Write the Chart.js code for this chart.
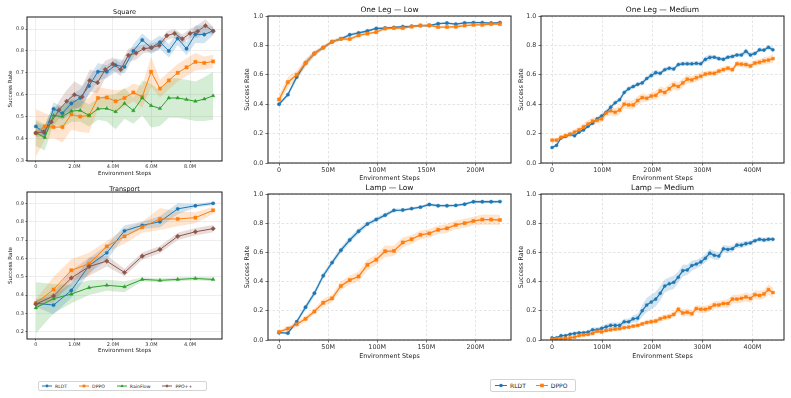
<!DOCTYPE html>
<html>
<head>
<meta charset="utf-8">
<script src="https://cdn.jsdelivr.net/npm/chart.js@4.4.1/dist/chart.umd.min.js"></script>
<style>
  body { margin: 0; width: 791px; height: 398px; position: relative; overflow: hidden; background: #fff; font-family: "DejaVu Sans", sans-serif; }
  canvas { position: absolute; }
  .legend { position: absolute; display: flex; align-items: center; box-sizing: border-box; border: 1px solid #d4d4d4; border-radius: 2px; background: #fff; color: #222; white-space: nowrap; }
  .legend .item { display: inline-flex; align-items: center; }
  .legend svg { display: block; }
</style>
</head>
<body>
<div class="legend" id="legendRobo" style="left:38px;top:381px;width:169px;height:10px;font-size:4.6px;padding-left:3px;gap:12px;"></div>
<div class="legend" id="legendFurn" style="left:490px;top:379px;width:86px;height:13px;font-size:6px;padding-left:4px;gap:10px;"></div>
<script>
// ---- Square (x in millions of env steps) ----
const squareStepsA = [0, 0.46, 0.92, 1.38, 1.84, 2.3, 2.76, 3.22, 3.68, 4.14, 4.6, 5.06, 5.52, 5.98, 6.44, 6.9, 7.36, 7.82, 8.28, 8.74, 9.2];
const squareStepsB = [0, 0.4, 0.8, 1.2, 1.6, 2.0, 2.4, 2.8, 3.2, 3.6, 4.0, 4.4, 4.8, 5.2, 5.6, 6.0, 6.4, 6.8, 7.2, 7.6, 8.0, 8.4, 8.8, 9.2];
const squareRLDT = [0.455, 0.425, 0.535, 0.515, 0.56, 0.585, 0.64, 0.705, 0.705, 0.735, 0.727, 0.80, 0.85, 0.815, 0.84, 0.80, 0.857, 0.81, 0.876, 0.875, 0.892];
const squareRLDTStd = [0.02, 0.03, 0.03, 0.03, 0.04, 0.04, 0.04, 0.04, 0.03, 0.03, 0.03, 0.03, 0.03, 0.03, 0.03, 0.03, 0.03, 0.03, 0.04, 0.04, 0.02];
const squareDPPO = [0.425, 0.455, 0.452, 0.452, 0.51, 0.50, 0.505, 0.585, 0.587, 0.57, 0.585, 0.61, 0.59, 0.705, 0.628, 0.665, 0.70, 0.725, 0.75, 0.745, 0.752];
const squareDPPOStd = [0.11, 0.06, 0.05, 0.07, 0.07, 0.07, 0.08, 0.05, 0.04, 0.05, 0.04, 0.04, 0.05, 0.07, 0.04, 0.04, 0.04, 0.04, 0.04, 0.03, 0.03];
const squareRainFlow = [0.425, 0.405, 0.505, 0.50, 0.525, 0.528, 0.505, 0.535, 0.537, 0.522, 0.56, 0.527, 0.585, 0.55, 0.537, 0.585, 0.585, 0.578, 0.57, 0.58, 0.595];
const squareRainFlowStd = [0.06, 0.06, 0.04, 0.05, 0.05, 0.05, 0.05, 0.05, 0.06, 0.08, 0.07, 0.06, 0.08, 0.10, 0.08, 0.09, 0.09, 0.09, 0.09, 0.10, 0.11];
const squarePPO = [0.425, 0.43, 0.475, 0.53, 0.57, 0.60, 0.59, 0.665, 0.655, 0.715, 0.74, 0.715, 0.78, 0.79, 0.81, 0.815, 0.825, 0.87, 0.88, 0.855, 0.88, 0.89, 0.915, 0.89];
const squarePPOStd = [0.02, 0.02, 0.03, 0.04, 0.05, 0.06, 0.05, 0.05, 0.05, 0.04, 0.03, 0.03, 0.03, 0.03, 0.02, 0.02, 0.02, 0.02, 0.02, 0.02, 0.02, 0.03, 0.03, 0.02];
const squareXTicks = [0, 2, 4, 6, 8];
const squareXLabels = ['0', '2.0M', '4.0M', '6.0M', '8.0M'];
const squareYTicks = [0.3, 0.4, 0.5, 0.6, 0.7, 0.8, 0.9];

// ---- Transport ----
const transportSteps = [0, 0.46, 0.92, 1.38, 1.84, 2.3, 2.76, 3.22, 3.68, 4.14, 4.6];
const transportRLDT = [0.355, 0.345, 0.425, 0.56, 0.63, 0.75, 0.78, 0.80, 0.87, 0.887, 0.90];
const transportRLDTStd = [0.02, 0.05, 0.04, 0.04, 0.04, 0.03, 0.02, 0.03, 0.03, 0.01, 0.01];
const transportDPPO = [0.355, 0.43, 0.535, 0.57, 0.665, 0.72, 0.77, 0.815, 0.815, 0.822, 0.862];
const transportDPPOStd = [0.02, 0.07, 0.06, 0.06, 0.03, 0.04, 0.03, 0.06, 0.04, 0.03, 0.02];
const transportRainFlow = [0.33, 0.38, 0.405, 0.44, 0.453, 0.445, 0.485, 0.48, 0.485, 0.49, 0.485];
const transportRainFlowStd = [0.14, 0.08, 0.05, 0.04, 0.03, 0.03, 0.01, 0.01, 0.01, 0.01, 0.01];
const transportPPO = [0.35, 0.395, 0.493, 0.555, 0.585, 0.523, 0.612, 0.648, 0.72, 0.745, 0.762];
const transportPPOStd = [0.02, 0.02, 0.04, 0.05, 0.03, 0.02, 0.02, 0.02, 0.02, 0.02, 0.02];
const transportXTicks = [0, 1, 2, 3, 4];
const transportXLabels = ['0', '1.0M', '2.0M', '3.0M', '4.0M'];
const transportYTicks = [0.2, 0.3, 0.4, 0.5, 0.6, 0.7, 0.8, 0.9];

// ---- Furniture, low randomness (x in millions) ----
const lowSteps = [0, 9, 18, 27, 36, 45, 54, 63, 72, 81, 90, 99, 108, 117, 126, 135, 144, 153, 162, 171, 180, 189, 198, 207, 216, 225];
const oneLegLowRLDT = [0.40, 0.465, 0.585, 0.68, 0.745, 0.785, 0.825, 0.845, 0.872, 0.885, 0.898, 0.915, 0.918, 0.922, 0.928, 0.93, 0.935, 0.935, 0.948, 0.952, 0.945, 0.953, 0.955, 0.955, 0.952, 0.955];
const oneLegLowRLDTStd = [0.01, 0.015, 0.02, 0.02, 0.015, 0.012, 0.01, 0.01, 0.01, 0.01, 0.01, 0.008, 0.008, 0.008, 0.008, 0.008, 0.008, 0.008, 0.008, 0.008, 0.008, 0.008, 0.008, 0.008, 0.008, 0.008];
const oneLegLowDPPO = [0.432, 0.55, 0.60, 0.68, 0.745, 0.785, 0.825, 0.845, 0.843, 0.868, 0.88, 0.89, 0.915, 0.918, 0.918, 0.928, 0.935, 0.937, 0.925, 0.925, 0.927, 0.935, 0.94, 0.94, 0.945, 0.945];
const oneLegLowDPPOStd = [0.03, 0.035, 0.03, 0.03, 0.02, 0.015, 0.015, 0.012, 0.012, 0.012, 0.01, 0.01, 0.01, 0.01, 0.01, 0.008, 0.008, 0.008, 0.01, 0.01, 0.01, 0.008, 0.008, 0.008, 0.008, 0.008];
const lampLowRLDT = [0.05, 0.047, 0.125, 0.225, 0.32, 0.44, 0.53, 0.615, 0.685, 0.745, 0.795, 0.825, 0.855, 0.888, 0.89, 0.90, 0.91, 0.928, 0.92, 0.92, 0.922, 0.93, 0.947, 0.947, 0.947, 0.948];
const lampLowRLDTStd = [0.008, 0.01, 0.015, 0.02, 0.02, 0.02, 0.02, 0.02, 0.02, 0.02, 0.015, 0.015, 0.015, 0.012, 0.01, 0.01, 0.01, 0.01, 0.01, 0.01, 0.01, 0.01, 0.01, 0.01, 0.01, 0.01];
const lampLowDPPO = [0.055, 0.078, 0.108, 0.145, 0.195, 0.255, 0.285, 0.37, 0.41, 0.435, 0.515, 0.55, 0.608, 0.61, 0.668, 0.69, 0.72, 0.73, 0.755, 0.765, 0.788, 0.80, 0.815, 0.825, 0.825, 0.822];
const lampLowDPPOStd = [0.01, 0.015, 0.02, 0.02, 0.02, 0.025, 0.025, 0.03, 0.03, 0.035, 0.035, 0.035, 0.04, 0.035, 0.035, 0.03, 0.03, 0.03, 0.03, 0.03, 0.03, 0.03, 0.03, 0.035, 0.035, 0.035];
const lowXTicks = [0, 50, 100, 150, 200];
const lowXLabels = ['0', '50M', '100M', '150M', '200M'];

// ---- Furniture, medium randomness ----
const medSteps = [0, 9, 18, 27, 36, 45, 54, 63, 72, 81, 90, 99, 108, 117, 126, 135, 144, 153, 162, 171, 180, 189, 198, 207, 216, 225, 234, 243, 252, 261, 270, 279, 288, 297, 306, 315, 324, 333, 342, 351, 360, 369, 378, 387, 396, 405, 414, 423, 432, 441];
const oneLegMedRLDT = [0.105, 0.12, 0.17, 0.18, 0.195, 0.185, 0.21, 0.225, 0.25, 0.27, 0.30, 0.32, 0.345, 0.38, 0.41, 0.43, 0.48, 0.505, 0.52, 0.535, 0.545, 0.575, 0.595, 0.615, 0.61, 0.635, 0.645, 0.64, 0.67, 0.675, 0.675, 0.675, 0.678, 0.675, 0.705, 0.718, 0.72, 0.71, 0.705, 0.72, 0.725, 0.735, 0.735, 0.76, 0.735, 0.745, 0.77, 0.768, 0.787, 0.77];
const oneLegMedRLDTStd = [0.01, 0.01, 0.01, 0.01, 0.01, 0.01, 0.01, 0.01, 0.01, 0.01, 0.015, 0.015, 0.015, 0.015, 0.015, 0.015, 0.015, 0.015, 0.015, 0.015, 0.015, 0.015, 0.02, 0.02, 0.015, 0.015, 0.015, 0.015, 0.015, 0.015, 0.015, 0.015, 0.015, 0.015, 0.02, 0.02, 0.015, 0.015, 0.015, 0.015, 0.015, 0.015, 0.015, 0.02, 0.015, 0.015, 0.015, 0.015, 0.015, 0.02];
const oneLegMedDPPO = [0.155, 0.155, 0.175, 0.185, 0.195, 0.21, 0.225, 0.245, 0.265, 0.285, 0.29, 0.30, 0.34, 0.355, 0.345, 0.36, 0.40, 0.395, 0.395, 0.425, 0.445, 0.44, 0.455, 0.46, 0.49, 0.48, 0.505, 0.53, 0.52, 0.545, 0.57, 0.565, 0.58, 0.59, 0.605, 0.61, 0.61, 0.625, 0.635, 0.645, 0.635, 0.675, 0.672, 0.67, 0.66, 0.68, 0.685, 0.695, 0.70, 0.71];
const oneLegMedDPPOStd = [0.015, 0.015, 0.015, 0.015, 0.02, 0.02, 0.02, 0.025, 0.025, 0.025, 0.025, 0.025, 0.025, 0.03, 0.03, 0.03, 0.03, 0.03, 0.03, 0.03, 0.03, 0.025, 0.025, 0.03, 0.03, 0.03, 0.03, 0.03, 0.03, 0.03, 0.03, 0.025, 0.025, 0.025, 0.02, 0.02, 0.02, 0.02, 0.02, 0.02, 0.02, 0.02, 0.02, 0.02, 0.02, 0.02, 0.02, 0.025, 0.025, 0.03];
const lampMedRLDT = [0.015, 0.015, 0.03, 0.03, 0.04, 0.045, 0.05, 0.05, 0.055, 0.07, 0.07, 0.08, 0.09, 0.10, 0.10, 0.10, 0.125, 0.125, 0.145, 0.15, 0.20, 0.24, 0.26, 0.28, 0.32, 0.37, 0.385, 0.395, 0.43, 0.475, 0.48, 0.51, 0.52, 0.535, 0.56, 0.595, 0.58, 0.575, 0.625, 0.62, 0.625, 0.65, 0.65, 0.66, 0.665, 0.68, 0.69, 0.685, 0.69, 0.69];
const lampMedRLDTStd = [0.005, 0.005, 0.008, 0.008, 0.01, 0.01, 0.01, 0.01, 0.012, 0.015, 0.015, 0.015, 0.02, 0.02, 0.02, 0.02, 0.02, 0.02, 0.025, 0.03, 0.04, 0.05, 0.05, 0.05, 0.05, 0.045, 0.045, 0.045, 0.04, 0.04, 0.035, 0.035, 0.03, 0.03, 0.03, 0.03, 0.03, 0.025, 0.025, 0.025, 0.02, 0.02, 0.02, 0.02, 0.015, 0.015, 0.015, 0.015, 0.015, 0.015];
const lampMedDPPO = [0.005, 0.008, 0.01, 0.012, 0.015, 0.02, 0.03, 0.035, 0.038, 0.045, 0.06, 0.055, 0.065, 0.07, 0.075, 0.078, 0.085, 0.088, 0.095, 0.10, 0.11, 0.12, 0.125, 0.13, 0.145, 0.155, 0.16, 0.175, 0.21, 0.185, 0.19, 0.18, 0.215, 0.21, 0.21, 0.22, 0.24, 0.24, 0.25, 0.25, 0.28, 0.28, 0.285, 0.295, 0.285, 0.31, 0.305, 0.315, 0.345, 0.325];
const lampMedDPPOStd = [0.004, 0.005, 0.006, 0.007, 0.008, 0.01, 0.01, 0.01, 0.01, 0.012, 0.012, 0.012, 0.012, 0.015, 0.015, 0.015, 0.015, 0.015, 0.015, 0.015, 0.015, 0.015, 0.018, 0.018, 0.02, 0.02, 0.02, 0.02, 0.025, 0.025, 0.025, 0.025, 0.025, 0.025, 0.025, 0.025, 0.025, 0.025, 0.025, 0.03, 0.03, 0.03, 0.03, 0.03, 0.03, 0.03, 0.03, 0.03, 0.035, 0.035];
const medXTicks = [0, 100, 200, 300, 400];
const medXLabels = ['0', '100M', '200M', '300M', '400M'];
const furnYTicks = [0, 0.2, 0.4, 0.6, 0.8, 1.0];

const COLORS = { 'RLDT': '#1f77b4', 'DPPO': '#ff7f0e', 'RainFlow': '#2ca02c', 'PPO++': '#8c564b' };
const MARKERS = { 'RLDT': 'circle', 'DPPO': 'rect', 'RainFlow': 'triangle', 'PPO++': 'rectRot' };
const MARK_R = { 'circle': 1.7, 'rect': 2.3, 'triangle': 2.1, 'rectRot': 2.3 };

Chart.defaults.font.family = '"DejaVu Sans", sans-serif';
Chart.defaults.color = '#333';

function fade(hex, a) {
    const n = parseInt(hex.slice(1), 16);
    return `rgba(${n >> 16},${(n >> 8) & 255},${n & 255},${a})`;
}

// mean line plus a shaded band (mean +/- std) for one method
function series(name, xs, ys, sd, idx, lw, scale) {
    const col = COLORS[name];
    const style = MARKERS[name];
    return [
        { data: xs.map((x, i) => ({ x, y: ys[i] - sd[i] })), borderColor: 'rgba(0,0,0,0)', pointRadius: 0, fill: false, order: 50 },
        { data: xs.map((x, i) => ({ x, y: ys[i] + sd[i] })), borderColor: 'rgba(0,0,0,0)', pointRadius: 0, fill: '-1', backgroundColor: fade(col, 0.2), order: 50 },
        { data: xs.map((x, i) => ({ x, y: ys[i] })), borderColor: col, borderWidth: lw, backgroundColor: col,
          pointStyle: style, pointRadius: MARK_R[style] * scale, pointBorderWidth: 0.4, pointBorderColor: col,
          pointBackgroundColor: col, fill: false, order: 10 - idx }
    ];
}

const framePlugin = {
    id: 'frame',
    afterDatasetsDraw(chart) {
        const a = chart.chartArea, ctx = chart.ctx;
        ctx.save();
        ctx.strokeStyle = '#1a1a1a';
        ctx.lineWidth = 1;
        ctx.strokeRect(a.left, a.top, a.right - a.left, a.bottom - a.top);
        ctx.restore();
    }
};

function zeroPad(s) { s.paddingLeft = s.paddingRight = s.paddingTop = s.paddingBottom = 0; }

// area = plot box [left, top, right, bottom] in page pixels
function panel(area, o) {
    const [l, t, r, b] = area;
    const cl = Math.floor(o.yTitleX - o.labelSize / 2 - 1);
    const ct = Math.floor(o.titleY - o.titleSize / 2 - 1);
    const cr = r + 8;
    const cb = Math.ceil(o.xTitleY + o.labelSize / 2 + 1);
    const cv = document.createElement('canvas');
    cv.width = cr - cl;
    cv.height = cb - ct;
    cv.style.left = cl + 'px';
    cv.style.top = ct + 'px';
    document.body.appendChild(cv);
    const yW = l - cl, xH = cb - b, tH = t - ct;
    const titleTop = o.titleY - ct - o.titleSize / 2;
    const gridCol = o.dashed ? '#d9d9d9' : '#e6e6e6';

    new Chart(cv, {
        type: 'line',
        data: { datasets: o.datasets },
        options: {
            responsive: false,
            animation: false,
            events: [],
            layout: { padding: { left: 0, top: 0, right: cr - r, bottom: 0 } },
            plugins: {
                legend: { display: false },
                tooltip: { enabled: false },
                filler: { drawTime: 'beforeDatasetsDraw' },
                title: {
                    display: true, text: o.title, fullSize: false, color: '#111',
                    font: { size: o.titleSize, weight: 'normal', lineHeight: 1 },
                    padding: { top: titleTop, bottom: tH - o.titleSize - titleTop }
                }
            },
            scales: {
                x: {
                    type: 'linear', min: o.xMin, max: o.xMax,
                    afterBuildTicks: s => { s.ticks = o.xTicks.map(v => ({ value: v })); },
                    afterFit: s => { s.height = xH; zeroPad(s); },
                    ticks: { autoSkip: false, maxRotation: 0, padding: o.xPad, color: '#333',
                             font: { size: o.tickSize }, callback: (v, i) => o.xLabels[i] },
                    grid: { color: gridCol, lineWidth: 0.7, tickLength: o.tl, tickColor: '#333', tickWidth: 0.7 },
                    border: { display: false, dash: o.dashed ? [2.5, 2] : [] },
                    title: { display: true, text: 'Environment Steps', color: '#222',
                             font: { size: o.labelSize, lineHeight: 1 },
                             padding: { top: 0, bottom: cb - o.xTitleY - o.labelSize / 2 } }
                },
                y: {
                    type: 'linear', min: o.yMin, max: o.yMax,
                    afterBuildTicks: s => { s.ticks = o.yTicks.map(v => ({ value: v })); },
                    afterFit: s => { s.width = yW; zeroPad(s); },
                    ticks: { autoSkip: false, padding: o.yPad, color: '#333',
                             font: { size: o.tickSize }, callback: v => v.toFixed(1) },
                    grid: { color: gridCol, lineWidth: 0.7, tickLength: o.tl, tickColor: '#333', tickWidth: 0.7 },
                    border: { display: false, dash: o.dashed ? [2.5, 2] : [] },
                    title: { display: true, text: 'Success Rate', color: '#222',
                             font: { size: o.labelSize, lineHeight: 1 },
                             padding: { top: o.yTitleX - cl - o.labelSize / 2, bottom: 0 } }
                }
            }
        },
        plugins: [framePlugin]
    });
}

const roboStyle = { titleSize: 6.5, labelSize: 5.6, tickSize: 5, tl: 1.5, xPad: 1, yPad: 1.5, dashed: false };
const furnStyle = { titleSize: 7.5, labelSize: 6.4, tickSize: 6.4, tl: 2.5, xPad: 1, yPad: 2.2, dashed: true,
                    yMin: 0, yMax: 1, yTicks: furnYTicks };

panel([27, 17, 222, 161], Object.assign({}, roboStyle, {
    title: 'Square', titleY: 12.5, yTitleX: 11, xTitleY: 174,
    xMin: -0.46, xMax: 9.66, yMin: 0.297, yMax: 0.955,
    xTicks: squareXTicks, xLabels: squareXLabels, yTicks: squareYTicks,
    datasets: [].concat(
        series('RLDT', squareStepsA, squareRLDT, squareRLDTStd, 0, 1, 1),
        series('DPPO', squareStepsA, squareDPPO, squareDPPOStd, 1, 1, 1),
        series('RainFlow', squareStepsA, squareRainFlow, squareRainFlowStd, 2, 1, 1),
        series('PPO++', squareStepsB, squarePPO, squarePPOStd, 3, 1, 1))
}));

panel([27, 192, 222, 339], Object.assign({}, roboStyle, {
    title: 'Transport', titleY: 189, yTitleX: 10.5, xTitleY: 351,
    xMin: -0.23, xMax: 4.83, yMin: 0.16, yMax: 0.962,
    xTicks: transportXTicks, xLabels: transportXLabels, yTicks: transportYTicks,
    datasets: [].concat(
        series('RLDT', transportSteps, transportRLDT, transportRLDTStd, 0, 1, 1),
        series('DPPO', transportSteps, transportDPPO, transportDPPOStd, 1, 1, 1),
        series('RainFlow', transportSteps, transportRainFlow, transportRainFlowStd, 2, 1, 1),
        series('PPO++', transportSteps, transportPPO, transportPPOStd, 3, 1, 1))
}));

panel([268, 16, 511, 163], Object.assign({}, furnStyle, {
    title: 'One Leg — Low', titleY: 10, yTitleX: 247, xTitleY: 178,
    xMin: -11.25, xMax: 236.25, xTicks: lowXTicks, xLabels: lowXLabels,
    datasets: [].concat(
        series('RLDT', lowSteps, oneLegLowRLDT, oneLegLowRLDTStd, 0, 1.3, 1),
        series('DPPO', lowSteps, oneLegLowDPPO, oneLegLowDPPOStd, 1, 1.3, 1))
}));

panel([268, 194, 511, 340], Object.assign({}, furnStyle, {
    title: 'Lamp — Low', titleY: 188, yTitleX: 247, xTitleY: 356.5,
    xMin: -11.25, xMax: 236.25, xTicks: lowXTicks, xLabels: lowXLabels,
    datasets: [].concat(
        series('RLDT', lowSteps, lampLowRLDT, lampLowRLDTStd, 0, 1.3, 1),
        series('DPPO', lowSteps, lampLowDPPO, lampLowDPPOStd, 1, 1.3, 1))
}));

panel([541, 16, 784, 163], Object.assign({}, furnStyle, {
    title: 'One Leg — Medium', titleY: 10, yTitleX: 521, xTitleY: 178,
    xMin: -22, xMax: 463, xTicks: medXTicks, xLabels: medXLabels,
    datasets: [].concat(
        series('RLDT', medSteps, oneLegMedRLDT, oneLegMedRLDTStd, 0, 1.3, 0.9),
        series('DPPO', medSteps, oneLegMedDPPO, oneLegMedDPPOStd, 1, 1.3, 0.9))
}));

panel([541, 194, 784, 340], Object.assign({}, furnStyle, {
    title: 'Lamp — Medium', titleY: 188, yTitleX: 521, xTitleY: 356.5,
    xMin: -22, xMax: 463, xTicks: medXTicks, xLabels: medXLabels,
    datasets: [].concat(
        series('RLDT', medSteps, lampMedRLDT, lampMedRLDTStd, 0, 1.3, 0.9),
        series('DPPO', medSteps, lampMedDPPO, lampMedDPPOStd, 1, 1.3, 0.9))
}));

// Legends (matplotlib style: line with marker in the middle)
function markerSvg(name, w, h, r) {
    const c = COLORS[name], m = MARKERS[name], cx = w / 2, cy = h / 2;
    let shape;
    if (m === 'circle') shape = `<circle cx="${cx}" cy="${cy}" r="${r}" fill="${c}"/>`;
    else if (m === 'rect') shape = `<rect x="${cx - r}" y="${cy - r}" width="${2 * r}" height="${2 * r}" fill="${c}"/>`;
    else if (m === 'triangle') shape = `<polygon points="${cx},${cy - r * 1.2} ${cx - r * 1.1},${cy + r * 0.8} ${cx + r * 1.1},${cy + r * 0.8}" fill="${c}"/>`;
    else shape = `<polygon points="${cx},${cy - r * 1.3} ${cx + r * 1.1},${cy} ${cx},${cy + r * 1.3} ${cx - r * 1.1},${cy}" fill="${c}"/>`;
    return `<svg width="${w}" height="${h}"><line x1="0" y1="${cy}" x2="${w}" y2="${cy}" stroke="${c}" stroke-width="1"/>${shape}</svg>`;
}

function buildLegend(id, names, w, h, r, gap) {
    const el = document.getElementById(id);
    names.forEach(n => {
        const item = document.createElement('span');
        item.className = 'item';
        item.style.gap = gap + 'px';
        item.innerHTML = markerSvg(n, w, h, r) + `<span>${n}</span>`;
        el.appendChild(item);
    });
}

buildLegend('legendRobo', ['RLDT', 'DPPO', 'RainFlow', 'PPO++'], 10, 6, 1.4, 3);
buildLegend('legendFurn', ['RLDT', 'DPPO'], 12, 7, 1.8, 3);
</script>
</body>
</html>
